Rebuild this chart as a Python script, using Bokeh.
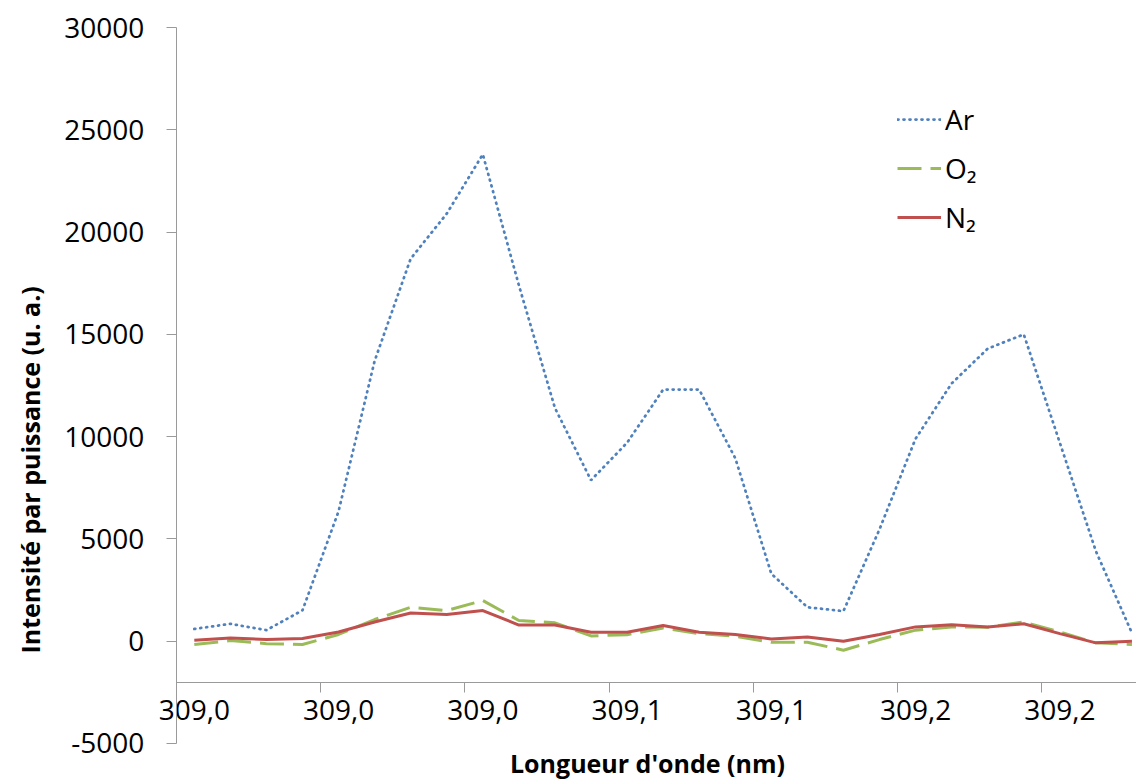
from bokeh.plotting import figure
from bokeh.models import (LinearAxis, FixedTicker, Legend, LegendItem, Title,
                          NumeralTickFormatter, Range1d)
from bokeh.embed import file_html
from bokeh.resources import INLINE

# ---- data ----
cat_index = list(range(27))
ar = [600, 850, 540, 1510, 6350, 13700, 18700, 20900, 23800, 17400, 11400, 7870,
      9700, 12300, 12300, 8950, 3300, 1660, 1470, 5470, 9900, 12600, 14300, 15000,
      9700, 4400, 400]
o2 = [-160, 30, -120, -160, 330, 1060, 1660, 1500, 1990, 1010, 900, 260,
      320, 650, 370, 240, -50, -50, -440, 80, 540, 700, 680, 940,
      450, -80, -160]
n2 = [50, 160, 80, 130, 450, 940, 1380, 1300, 1500, 790, 790, 440,
      440, 770, 440, 330, 110, 210, 0, 330, 700, 810, 700, 850,
      370, -80, 0]
label_positions = [0, 4, 8, 12, 16, 20, 24]
tick_labels = ["309,0", "309,0", "309,0", "309,1", "309,1", "309,2", "309,2"]
boundary_ticks = [-0.5, 3.5, 7.5, 11.5, 15.5, 19.5, 23.5]
y_ticks = [-5000, 0, 5000, 10000, 15000, 20000, 25000, 30000]
series_names = ["Ar", "O\u2082", "N\u2082"]

FONT = "Open Sans"
AXIS_GREY = "#9a9a9a"

p = figure(width=1136, height=780,
           x_range=Range1d(-3.821, 26.126), y_range=Range1d(-6809, 31320),
           x_axis_type=None, y_axis_type=None,
           output_backend="svg", toolbar_location=None,
           min_border_left=54, min_border_right=0, min_border_top=0,
           min_border_bottom=0)
p.outline_line_color = None
p.xgrid.visible = False
p.ygrid.visible = False
p.background_fill_color = "white"

# y axis: line, ticks and labels, crossing at the first category edge
yaxis = LinearAxis(fixed_location=-0.5, ticker=FixedTicker(ticks=y_ticks),
                   formatter=NumeralTickFormatter(format="0"),
                   bounds=(y_ticks[0], y_ticks[-1]))
yaxis.axis_line_color = AXIS_GREY
yaxis.major_tick_line_color = AXIS_GREY
yaxis.major_tick_in = 0
yaxis.major_tick_out = 10
yaxis.minor_tick_line_color = None
yaxis.major_label_text_font = FONT
yaxis.major_label_text_font_size = "28px"
yaxis.major_label_text_color = "black"
yaxis.major_label_standoff = 22
p.add_layout(yaxis, "left")

# x axis line + ticks at category boundaries (crossing at y=-2000)
xaxis_ticks = LinearAxis(fixed_location=-2000, ticker=FixedTicker(ticks=boundary_ticks),
                         bounds=(-0.5, 40))
xaxis_ticks.axis_line_color = AXIS_GREY
xaxis_ticks.major_tick_line_color = AXIS_GREY
xaxis_ticks.major_tick_in = 0
xaxis_ticks.major_tick_out = 10
xaxis_ticks.minor_tick_line_color = None
xaxis_ticks.major_label_text_color = None
p.add_layout(xaxis_ticks, "below")

# category labels + x axis title
xaxis_labels = LinearAxis(fixed_location=-2000, ticker=FixedTicker(ticks=label_positions),
                          major_label_overrides={pos: lab for pos, lab in zip(label_positions, tick_labels)},
                          bounds=(-0.5, 25.63),
                          axis_label="Longueur d'onde (nm)")
xaxis_labels.axis_line_color = None
xaxis_labels.major_tick_line_color = None
xaxis_labels.minor_tick_line_color = None
xaxis_labels.major_tick_in = 0
xaxis_labels.major_tick_out = 0
xaxis_labels.major_label_standoff = 18
xaxis_labels.major_label_text_font = FONT
xaxis_labels.major_label_text_font_size = "28px"
xaxis_labels.major_label_text_color = "black"
xaxis_labels.axis_label_text_font = FONT
xaxis_labels.axis_label_text_font_size = "25px"
xaxis_labels.axis_label_text_font_style = "bold"
xaxis_labels.axis_label_text_color = "black"
xaxis_labels.axis_label_standoff = 22
p.add_layout(xaxis_labels, "below")

# y axis title
ytitle = Title(text="Intensité par puissance (u. a.)", align="left", offset=127,
               text_font=FONT, text_font_size="25px", text_font_style="bold",
               text_color="black", standoff=20)
p.add_layout(ytitle, "left")

r_ar = p.line(cat_index, ar, line_color="#4F81BD", line_width=2.75,
              line_dash="1 5", line_cap="round")
r_o2 = p.line(cat_index, o2, line_color="#9BBB59", line_width=3,
              line_dash="24 9")
r_n2 = p.line(cat_index, n2, line_color="#C0504D", line_width=3)

legend = Legend(items=[LegendItem(label=series_names[0], renderers=[r_ar]),
                       LegendItem(label=series_names[1], renderers=[r_o2]),
                       LegendItem(label=series_names[2], renderers=[r_n2])],
                location=(841, 544))
legend.border_line_color = None
legend.background_fill_alpha = 0
legend.padding = 0
legend.margin = 0
legend.spacing = 11
legend.glyph_width = 44
legend.glyph_height = 34
legend.label_height = 34
legend.label_standoff = 4
legend.label_text_font = FONT
legend.label_text_font_size = "28px"
legend.label_text_color = "black"
p.add_layout(legend, "center")

open("out.html", "w").write(file_html(p, INLINE))
